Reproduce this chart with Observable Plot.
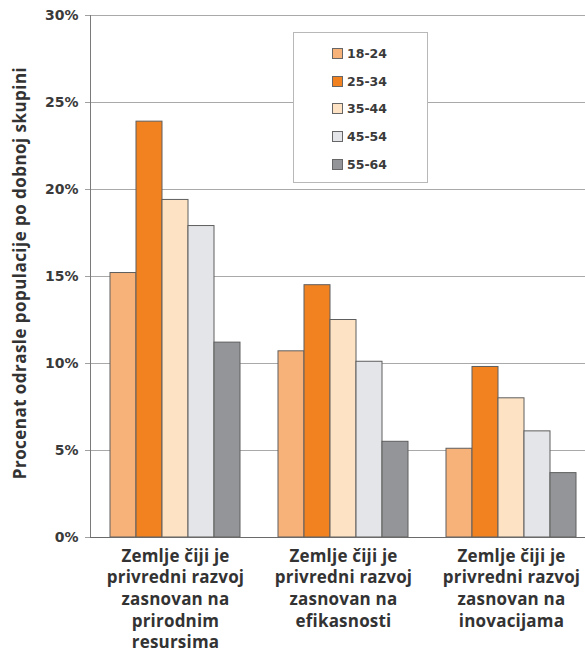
<!DOCTYPE html>
<html><head><meta charset="utf-8">
<script src="https://cdn.jsdelivr.net/npm/d3@7"></script>
<script src="https://cdn.jsdelivr.net/npm/@observablehq/plot@0.6"></script>
<style>
html,body{margin:0;padding:0;background:#fff;overflow:hidden}
#wrap{position:relative;width:585px;height:656px;overflow:hidden;background:#fff}
#wrap svg{position:absolute;left:0;top:0;max-width:none !important}
#legend{position:absolute;left:293px;top:32px;width:135px;height:151px;border:1px solid #b8b8b8;background:#fff;box-sizing:border-box;padding-top:7px}
#legend .item{display:flex;align-items:center;margin-left:38px;height:27.6px;font:bold 12.5px "DejaVu Sans",sans-serif;color:#3a3a3a}
#legend .sw{width:9px;height:9px;border:1px solid #666;margin-right:4px;flex:none}
#ytitle{position:absolute;left:19px;top:273px;transform:translate(-50%,-50%) rotate(-90deg);white-space:nowrap;font:700 17px "Open Sans",sans-serif;letter-spacing:0.45px;color:#333}
</style></head><body><div id="wrap"><div id="ytitle"></div><div id="legend"></div></div>
<script>
const groups = [
  "Zemlje čiji je\nprivredni razvoj\nzasnovan na\nprirodnim\nresursima",
  "Zemlje čiji je\nprivredni razvoj\nzasnovan na\nefikasnosti",
  "Zemlje čiji je\nprivredni razvoj\nzasnovan na\ninovacijama"
];
const ages = ["18-24", "25-34", "35-44", "45-54", "55-64"];
const colors = ["#f7b27a", "#f28220", "#fde3c3", "#e3e5e8", "#939598"];
const resursi = [15.2, 23.9, 19.4, 17.9, 11.2];
const efikasnost = [10.7, 14.5, 12.5, 10.1, 5.5];
const inovacije = [5.1, 9.8, 8.0, 6.1, 3.7];
const yTicks = [0, 5, 10, 15, 20, 25, 30];
const yTitle = "Procenat odrasle populacije po dobnoj skupini";

const series = [resursi, efikasnost, inovacije];
const data = [];
groups.forEach((g, gi) => ages.forEach((a, ai) => data.push({group: g, age: a, value: series[gi][ai]})));

const dims = {width: 596, height: 656, marginLeft: 90, marginRight: 0, marginTop: 15, marginBottom: 119};

const back = Plot.plot({
  ...dims,
  style: {background: "white", fontFamily: "'Open Sans', sans-serif", maxWidth: "none"},
  x: {domain: [0, 1], axis: null},
  y: {domain: [0, 30], label: null, axis: null},
  marks: [
    Plot.gridY(yTicks, {stroke: "#a9a9a9", strokeOpacity: 1}),
    Plot.axisY(yTicks, {tickFormat: d => d + "%", tickSize: 5, tickPadding: 7, stroke: "#a0a0a0", fill: "#3a3a3a", fontSize: 14, fontWeight: "bold", fontFamily: "'DejaVu Sans', sans-serif", label: null}),
    Plot.ruleX([0], {stroke: "#7a7a7a"})
  ]
});

const front = Plot.plot({
  ...dims,
  style: {background: "transparent", fontFamily: "'Open Sans', sans-serif", maxWidth: "none", letterSpacing: "0.2px"},
  fx: {domain: groups, paddingInner: 0.229, paddingOuter: 0.115, label: null},
  x: {domain: ages, padding: 0, axis: null},
  y: {domain: [0, 30], label: null, axis: null},
  color: {domain: ages, range: colors},
  marks: [
    Plot.barY(data, {fx: "group", x: "age", y: "value", fill: "age", stroke: "#5e5e5e", strokeWidth: 1}),
    Plot.axisFx({anchor: "bottom", tickSize: 0, tickPadding: 9, fontSize: 17, fontWeight: 700, lineHeight: 1.27, fill: "#333", label: null, textAnchor: "middle"})
  ]
});

const zero = Plot.plot({
  ...dims,
  style: {background: "transparent", maxWidth: "none"},
  x: {domain: [0, 1], axis: null},
  y: {domain: [0, 30], label: null, axis: null},
  marks: [Plot.ruleY([0], {stroke: "#6a6a6a"})]
});

const wrap = document.getElementById("wrap");
wrap.prepend(zero);
wrap.prepend(front);
wrap.prepend(back);

document.getElementById("ytitle").textContent = yTitle;
const legend = document.getElementById("legend");
ages.forEach((a, i) => {
  const it = document.createElement("div");
  it.className = "item";
  const sw = document.createElement("span");
  sw.className = "sw";
  sw.style.background = colors[i];
  it.appendChild(sw);
  it.appendChild(document.createTextNode(a));
  legend.appendChild(it);
});
</script>
</body></html>
